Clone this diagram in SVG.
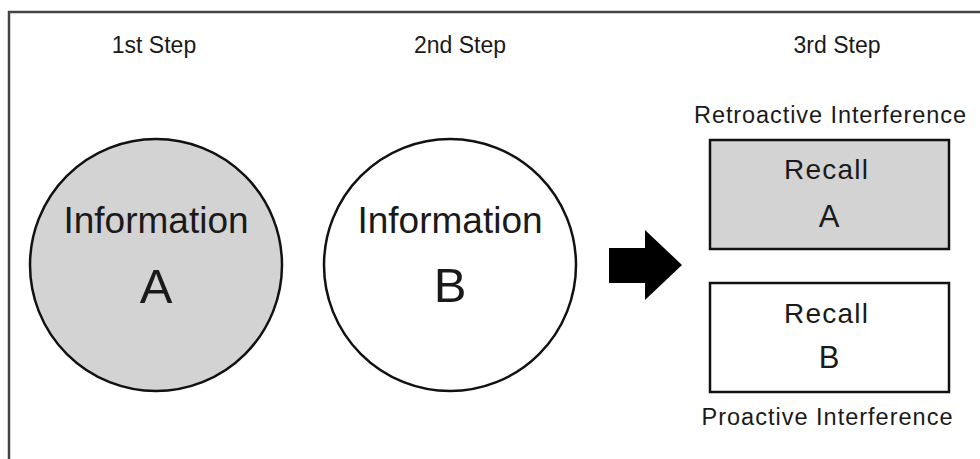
<svg xmlns="http://www.w3.org/2000/svg" width="980" height="459" viewBox="0 0 980 459">
<style>
text{font-family:"Liberation Sans",Arial,sans-serif;fill:#1a1a1a;text-anchor:middle}
.step{font-size:23px}
.lab{font-size:23.5px}
.info{font-size:37px}
.big{font-size:49px}
.rec{font-size:28px}
.rl{font-size:31px}
.shape{stroke:#111;stroke-width:2.5}
</style>
<rect width="980" height="459" fill="#fff"/>
<g id="frame" fill="none" stroke="#444" stroke-width="2.5">
<path d="M9,459 V12 H980"/>
</g>
<g id="steps">
<text class="step" x="154" y="53">1st Step</text>
<text class="step" x="460" y="53">2nd Step</text>
<text class="step" x="837" y="53">3rd Step</text>
</g>
<g id="infoA">
<circle class="shape" cx="156" cy="265" r="126" fill="#d3d3d3"/>
<text class="info" x="156" y="233">Information</text>
<text class="big" x="156" y="303">A</text>
</g>
<g id="infoB">
<circle class="shape" cx="450" cy="265" r="126" fill="#fff"/>
<text class="info" x="450" y="233">Information</text>
<text class="big" x="450" y="302">B</text>
</g>
<g id="connectors">
<polygon points="609,248 645,248 645,230 682,265 645,300 645,283 609,283" fill="#000"/>
</g>
<g id="recallA">
<text class="lab" x="830" y="123" textLength="272" lengthAdjust="spacing">Retroactive Interference</text>
<rect class="shape" x="710" y="140" width="239" height="109" fill="#d3d3d3"/>
<text class="rec" x="826" y="179" textLength="84" lengthAdjust="spacing">Recall</text>
<text class="rl" x="829" y="227">A</text>
</g>
<g id="recallB">
<rect class="shape" x="710" y="283" width="239" height="109" fill="#fff"/>
<text class="rec" x="826" y="323" textLength="84" lengthAdjust="spacing">Recall</text>
<text class="rl" x="829" y="368">B</text>
<text class="lab" x="827" y="425" textLength="251" lengthAdjust="spacing">Proactive Interference</text>
</g>
</svg>
